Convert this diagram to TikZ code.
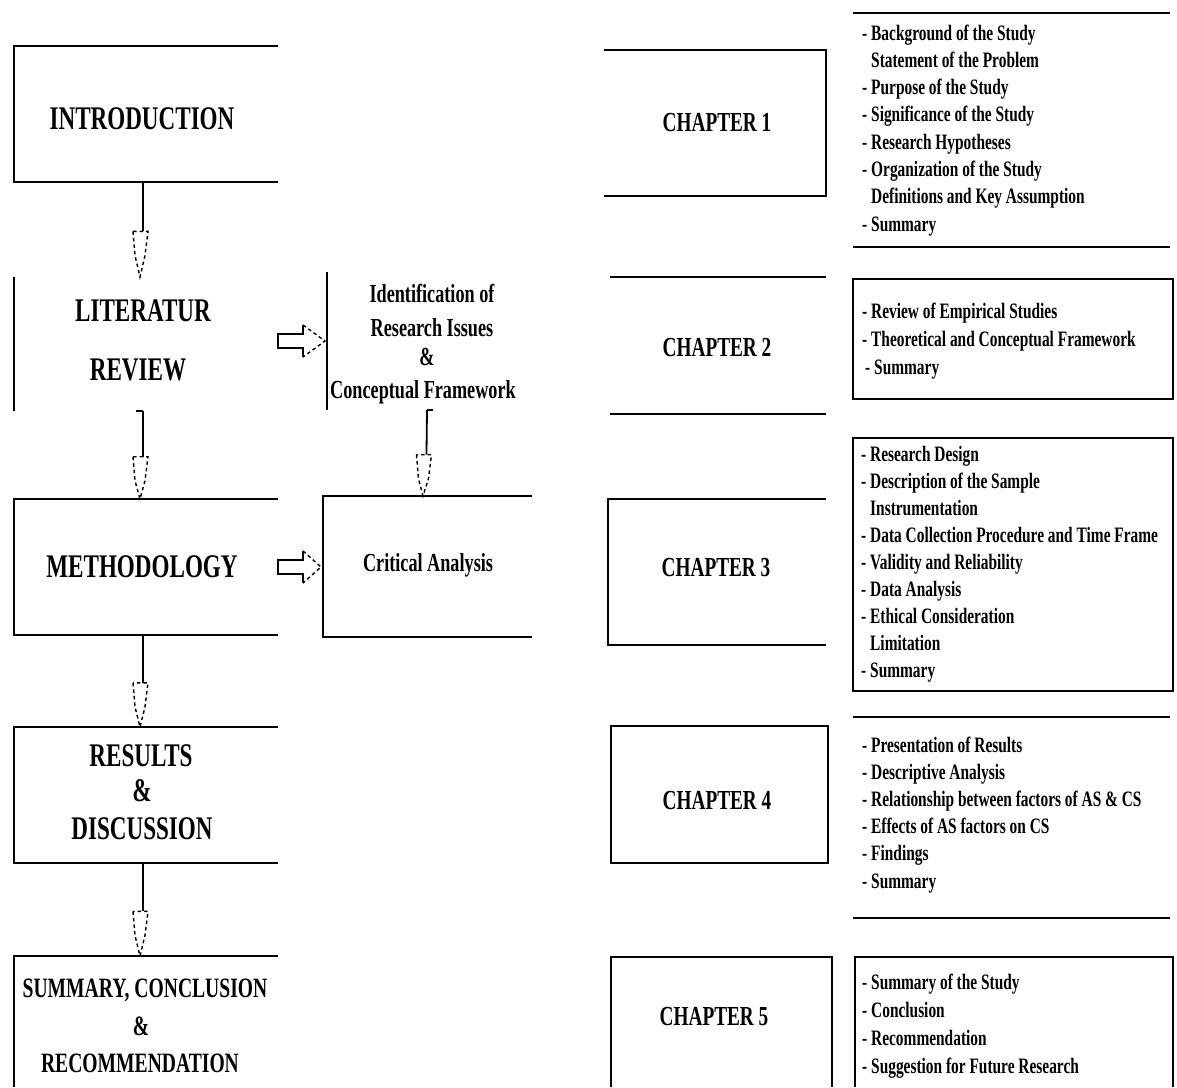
\documentclass[tikz,border=0pt]{standalone}
\usepackage{fontspec}
\newfontfamily\cf{Liberation Serif}[FakeStretch=0.7]
\usetikzlibrary{calc}
\tikzset{
  edge/.style={line width=1.8pt, black},
  dashhead/.style={line width=1.4pt, black, dash pattern=on 3.5pt off 3pt},
  bx/.style={draw=none, inner sep=0pt, outer sep=0pt},
  big/.style={font=\cf\bfseries\fontsize{33}{33}\selectfont, inner sep=0pt, anchor=base},
  bigs/.style={font=\cf\bfseries\fontsize{28}{28}\selectfont, inner sep=0pt, anchor=base},
  mid/.style={font=\cf\bfseries\fontsize{26}{26}\selectfont, inner sep=0pt, anchor=base},
  chap/.style={font=\cf\bfseries\fontsize{27.5}{27.5}\selectfont, inner sep=0pt, anchor=base},
  item/.style={font=\cf\bfseries\fontsize{22}{22}\selectfont, inner sep=0pt, anchor=base west}
}
\newcommand\dnarrow[3]{%
  \coordinate (m) at ($(#1)!0.52!(#2)$);
  \draw[edge] (#1) -- (m);
  \draw[edge] (#1) -- ++(#3,0);
  \draw[dashhead] ($(m)+(-10,0)$) -- ($(m)+(-8,24)$) -- ($(#2)+(-3,0)$) -- ($(m)+(2,24)$) -- ($(m)+(5,0)$) -- cycle;
}
\newcommand\rtarrow[2]{%
  \draw[edge] ($(#1)+(25,-16)$) -- ($(#1)+(25,-7)$) -- ($(#1)+(0,-7)$) -- ($(#1)+(0,7)$) -- ($(#1)+(25,7)$) -- ($(#1)+(25,16)$);
  \draw[dashhead] ($(#1)+(25,-16)$) -- ($(#2)+(-2,0)$) -- ($(#1)+(25,16)$);
}
\begin{document}
\begin{tikzpicture}[x=1pt,y=-1pt]
\useasboundingbox[fill=white] (0,0) rectangle (1177,1087);

% ---------- left column boxes ----------
\node[bx, minimum width=264pt, minimum height=136pt] (intro) at (146,114) {};
\node[bx, minimum width=264pt, minimum height=134pt] (lit)   at (146,344) {};
\node[bx, minimum width=264pt, minimum height=136pt] (meth)  at (146,567) {};
\node[bx, minimum width=264pt, minimum height=136pt] (res)   at (146,795) {};
\node[bx, minimum width=264pt, minimum height=131pt] (summ)  at (146,1021.5) {};
\node[bx, minimum width=203pt, minimum height=138pt] (idb)   at (428.5,341) {};
\node[bx, minimum width=209pt, minimum height=141pt] (ca)    at (427.5,566.5) {};

\draw[edge] (intro.north east) -- (intro.north west) -- (intro.south west) -- (intro.south east);
\draw[edge] (lit.north west) -- (lit.south west);
\draw[edge] (meth.north east) -- (meth.north west) -- (meth.south west) -- (meth.south east);
\draw[edge] (res.north east) -- (res.north west) -- (res.south west) -- (res.south east);
\draw[edge] (summ.north east) -- (summ.north west) -- (summ.south west);
\draw[edge] (idb.north west) -- (idb.south west);
\draw[edge] (ca.north east) -- (ca.north west) -- (ca.south west) -- (ca.south east);

% texts left
\node[big] (tintro) at (142,129) {INTRODUCTION};
\node[big] (tlit1) at (143,321) {LITERATUR};
\node[big] (tlit2) at (138,380) {REVIEW};
\node[big] (tmeth) at (142,577) {METHODOLOGY};
\node[big] (tres1) at (141,766) {RESULTS};
\node[big] (tres2) at (142,801) {\&};
\node[big] (tres3) at (142,839) {DISCUSSION};
\node[bigs] (tsum1) at (145,997) {SUMMARY, CONCLUSION};
\node[bigs] (tsum2) at (141,1035) {\&};
\node[bigs] (tsum3) at (140,1072) {RECOMMENDATION};
\node[mid] (tid1) at (432,302) {Identification of};
\node[mid] (tid2) at (432,336) {Research Issues};
\node[mid] (tid3) at (427,365) {\&};
\node[mid] (tid4) at (423,398) {Conceptual Framework};
\node[mid] (tca) at (428,571) {Critical Analysis};

% connectors
\dnarrow{[xshift=-3pt]intro.south}{[xshift=-3pt]lit.north}{-7}
\dnarrow{[xshift=-3pt]lit.south}{[xshift=-3pt]meth.north}{-7}
\dnarrow{[xshift=-3pt]meth.south}{[xshift=-3pt]res.north}{-7}
\dnarrow{[xshift=-3pt]res.south}{[xshift=-3pt]summ.north}{-7}
\dnarrow{[xshift=-1.5pt]idb.south}{[xshift=-1.5pt]ca.north}{6}
\coordinate (la) at ([yshift=3pt]lit.east);
\coordinate (lb) at (la -| idb.west);
\coordinate (ma) at (meth.east);
\coordinate (mb) at (ma -| ca.west);
\rtarrow{la}{lb}
\rtarrow{ma}{mb}

% ---------- right column ----------
\node[bx, minimum width=222pt, minimum height=146pt] (ch1) at (715,123) {};
\node[bx, minimum width=216pt, minimum height=137pt] (ch2) at (718,345.5) {};
\node[bx, minimum width=218pt, minimum height=146pt] (ch3) at (717,572) {};
\node[bx, minimum width=217pt, minimum height=137pt] (ch4) at (719.5,794.5) {};
\node[bx, minimum width=221pt, minimum height=130pt] (ch5) at (721.5,1022) {};

\node[bx, minimum width=317pt, minimum height=234pt] (c1) at (1011.5,130) {};
\node[bx, minimum width=320pt, minimum height=120pt] (c2) at (1013,339) {};
\node[bx, minimum width=320pt, minimum height=253pt] (c3) at (1013,564.5) {};
\node[bx, minimum width=317pt, minimum height=201pt] (c4) at (1011.5,817.5) {};
\node[bx, minimum width=318pt, minimum height=130pt] (c5) at (1014,1022) {};

\draw[edge] (ch1.north west) -- (ch1.north east) -- (ch1.south east) -- (ch1.south west);
\draw[edge] (ch2.north west) -- (ch2.north east);
\draw[edge] (ch2.south west) -- (ch2.south east);
\draw[edge] (ch3.north east) -- (ch3.north west) -- (ch3.south west) -- (ch3.south east);
\draw[edge] (ch4.north west) rectangle (ch4.south east);
\draw[edge] (ch5.south west) -- (ch5.north west) -- (ch5.north east) -- (ch5.south east);

\draw[edge] (c1.north west) -- (c1.north east);
\draw[edge] (c1.south west) -- (c1.south east);
\draw[edge] (c2.north west) rectangle (c2.south east);
\draw[edge] (c3.north west) rectangle (c3.south east);
\draw[edge] (c4.north west) -- (c4.north east);
\draw[edge] (c4.south west) -- (c4.south east);
\draw[edge] (c5.south west) -- (c5.north west) -- (c5.north east) -- (c5.south east);

\node[chap] (tch1) at (717,131) {CHAPTER 1};
\node[chap] (tch2) at (717,356) {CHAPTER 2};
\node[chap] (tch3) at (716,576) {CHAPTER 3};
\node[chap] (tch4) at (717,809) {CHAPTER 4};
\node[chap] (tch5) at (714,1025) {CHAPTER 5};

\foreach \t [count=\i] in {{- Background of the Study},{\hspace*{9pt}Statement of the Problem},{- Purpose of the Study},{- Significance of the Study},{- Research Hypotheses},{- Organization of the Study},{\hspace*{9pt}Definitions and Key Assumption},{- Summary}}
  \node[item] (ia\i) at ({862},{40+27.3*(\i-1)}) {\t};
\foreach \t [count=\i] in {{- Review of Empirical Studies},{- Theoretical and Conceptual Framework},{\hspace*{3pt}- Summary}}
  \node[item] (ib\i) at ({862},{318+28*(\i-1)}) {\t};
\foreach \t [count=\i] in {{- Research Design},{- Description of the Sample},{\hspace*{9pt}Instrumentation},{- Data Collection Procedure and Time Frame},{- Validity and Reliability},{- Data Analysis},{- Ethical Consideration},{\hspace*{9pt}Limitation},{- Summary}}
  \node[item] (ic\i) at ({861},{461+27.1*(\i-1)}) {\t};
\foreach \t [count=\i] in {{- Presentation of Results},{- Descriptive Analysis},{- Relationship between factors of AS \& CS},{- Effects of AS factors on CS},{- Findings},{- Summary}}
  \node[item] (id\i) at ({862},{752+27.2*(\i-1)}) {\t};
\foreach \t [count=\i] in {{- Summary of the Study},{- Conclusion},{- Recommendation},{- Suggestion for Future Research}}
  \node[item] (ie\i) at ({862},{989+28*(\i-1)}) {\t};
\end{tikzpicture}
\end{document}
